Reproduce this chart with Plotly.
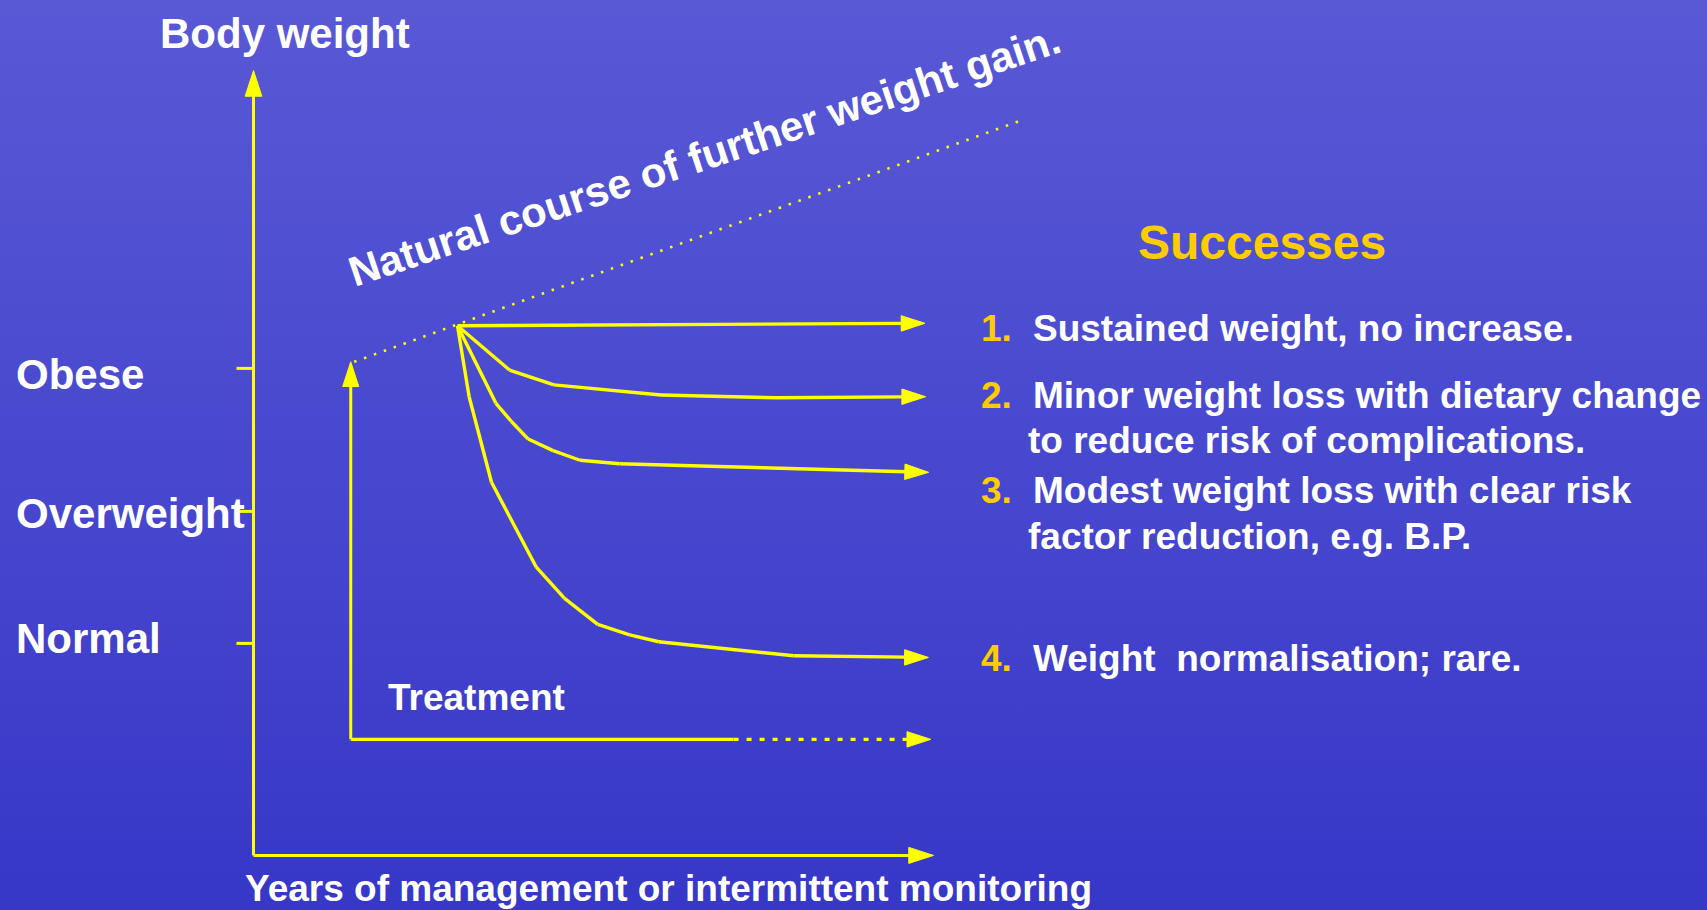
import plotly.graph_objects as go

# ---------------- data (x: years of management, y: body-weight index) ----------------
level_names = ["Normal", "Overweight", "Obese"]
level_values = [22.0, 26.8, 32.0]

y_axis_x = [0.0, 0.0]
y_axis_y = [14.29, 42.83]
x_axis_x = [0.0, 10.0]
x_axis_y = [14.29, 14.29]
tick_x = [-0.25, 0.0]

treat_up_x = [1.43, 1.43]
treat_up_y = [18.51, 32.24]
treat_base_x = [1.43, 7.06]
treat_base_y = [18.51, 18.51]
treat_cont_x = [7.06, 9.96]
treat_cont_y = [18.51, 18.51]

natural_x = [1.48, 11.27]
natural_y = [32.24, 41.0]

c1_x = [3.0, 9.875]
c1_y = [33.55, 33.64]
c2_x = [3.0, 3.765, 4.419, 5.993, 7.699, 9.532, 9.885]
c2_y = [33.55, 31.94, 31.40, 31.03, 30.93, 30.97, 30.97]
c3_x = [3.0, 3.565, 3.796, 4.04, 4.406, 4.801, 5.382, 7.701, 9.593, 9.928]
c3_y = [33.55, 30.73, 30.06, 29.43, 29.01, 28.66, 28.53, 28.37, 28.24, 28.22]
c4_x = [3.0, 3.171, 3.5, 4.159, 4.574, 5.062, 5.532, 5.959, 7.943, 9.59, 9.925]
c4_y = [33.55, 30.97, 27.86, 24.77, 23.64, 22.69, 22.31, 22.06, 21.55, 21.49, 21.49]

outcome_numbers = ["1.", "2.", "3.", "4."]
outcome_lines = [
    ["Sustained weight, no increase."],
    ["Minor weight loss with dietary change", "to reduce risk of complications."],
    ["Modest weight loss with clear risk", "factor reduction, e.g. B.P."],
    ["Weight  normalisation; rare."],
]

y_title = "Body weight"
x_title = "Years of management or intermittent monitoring"
natural_label = "Natural course of further weight gain."
treatment_label = "Treatment"
successes_title = "Successes"

# ---------------- styling / layout ----------------
W, H = 1707, 910
X_RANGE = [-3.728, 21.375]
Y_RANGE = [12.305, 45.396]
YELLOW = "#FFFF00"
GOLD = "#FFCC00"
WHITE = "#FFFFFF"
FONT = "Arial, 'Liberation Sans', sans-serif"
ARROW = 25


def px(xp):
    return xp / W


def py(yp):
    return 1 - yp / H


fig = go.Figure()

# background gradient
bx = [X_RANGE[0] - 1, X_RANGE[1] + 1, X_RANGE[1] + 1, X_RANGE[0] - 1, X_RANGE[0] - 1]
by = [Y_RANGE[0] - 1, Y_RANGE[0] - 1, Y_RANGE[1] + 1, Y_RANGE[1] + 1, Y_RANGE[0] - 1]
fig.add_trace(go.Scatter(
    x=bx, y=by, mode="none", fill="toself", fillcolor="#4848CF",
    fillgradient=dict(type="vertical", colorscale=[[0, "#3737C8"], [1, "#5959D6"]],
                      start=Y_RANGE[0], stop=Y_RANGE[1]),
    hoverinfo="skip", showlegend=False))


def arrow_line(xs, ys, width=3.2, dash="solid", head=ARROW):
    n = len(xs)
    sizes = [0] * (n - 1) + [head]
    fig.add_trace(go.Scatter(
        x=xs, y=ys, mode="lines+markers",
        line=dict(color=YELLOW, width=width, dash=dash),
        marker=dict(symbol="arrow", size=sizes, angleref="previous", opacity=1,
                    color=YELLOW, line=dict(width=1, color=YELLOW)),
        hoverinfo="skip", showlegend=False, cliponaxis=False))


def plain_line(xs, ys, width=3.2, dash="solid"):
    fig.add_trace(go.Scatter(
        x=xs, y=ys, mode="lines", line=dict(color=YELLOW, width=width, dash=dash),
        hoverinfo="skip", showlegend=False))


# axes
arrow_line(y_axis_x, y_axis_y, width=3, head=27)
arrow_line(x_axis_x, x_axis_y, width=3, head=26)
for v in level_values:
    plain_line(tick_x, [v, v], width=3)

# natural course (dotted)
plain_line(natural_x, natural_y, width=2.6, dash="2.5px,8px")

# treatment
arrow_line(treat_up_x, treat_up_y, width=3, head=26)
plain_line(treat_base_x, treat_base_y, width=3.2)
arrow_line(treat_cont_x, treat_cont_y, width=3.2, dash="5px,8px")

# outcome curves
for cx, cy in [(c1_x, c1_y), (c2_x, c2_y), (c3_x, c3_y), (c4_x, c4_y)]:
    arrow_line(cx, cy, width=3.4)

ann = []


def text(x, y, s, size, color=WHITE, xanchor="center", angle=0):
    ann.append(dict(x=x, y=y, xref="paper", yref="paper", text=s, showarrow=False,
                    xanchor=xanchor, yanchor="middle", textangle=angle,
                    font=dict(family=FONT, size=size, color=color, weight="bold")))


text(px(284.5), py(33.5), y_title, 42)
text(px(704), py(155), natural_label, 42, angle=-18.4)
text(px(476), py(697), treatment_label, 37)
text(px(668), py(888), x_title, 37)
text(px(1262), py(243), successes_title, 48, color=GOLD)

# level labels
label_offsets = [5, -2, -6]
for name, v, off in zip(level_names, level_values, label_offsets):
    ann.append(dict(x=px(14), y=v, xref="paper", yref="y", text=name, showarrow=False,
                    xanchor="left", yanchor="middle", yshift=off,
                    font=dict(family=FONT, size=42, color=WHITE, weight="bold")))

# outcome list
item_mids = [[328.5], [395, 440], [490.8, 536.8], [658.5]]
for num, lines, mids in zip(outcome_numbers, outcome_lines, item_mids):
    text(px(979), py(mids[0]), num, 37, color=GOLD, xanchor="left")
    for i, (ln, m) in enumerate(zip(lines, mids)):
        text(px(1031 if i == 0 else 1026), py(m), ln, 37, xanchor="left")

fig.update_layout(
    width=W, height=H, margin=dict(l=0, r=0, t=0, b=0),
    paper_bgcolor="#4848CF", plot_bgcolor="rgba(0,0,0,0)",
    xaxis=dict(range=X_RANGE, visible=False, fixedrange=True),
    yaxis=dict(range=Y_RANGE, visible=False, fixedrange=True),
    showlegend=False, annotations=ann,
)

fig.write_html(
    "out.html",
    config={"displayModeBar": False},
    post_script="document.body.style.margin='0';document.body.style.overflow='hidden';",
)
